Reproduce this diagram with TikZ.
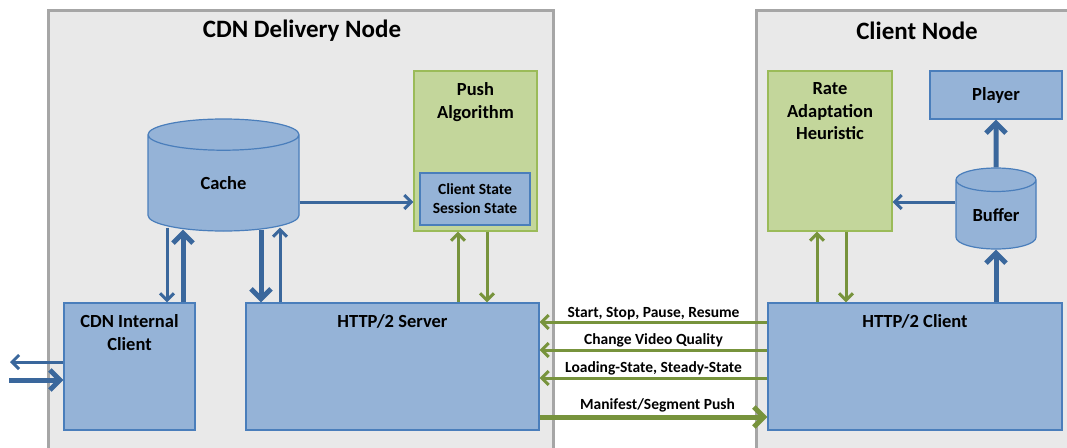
\documentclass[tikz,border=0pt]{standalone}
\usepackage{fontspec}
\setmainfont{Carlito}
\usetikzlibrary{arrows.meta,shapes.geometric,positioning}

\definecolor{boxgray}{HTML}{E9E9E9}
\definecolor{linegray}{HTML}{A6A6A6}
\definecolor{boxblue}{HTML}{95B3D7}
\definecolor{lineblue}{HTML}{4A7EBB}
\definecolor{topblue}{HTML}{B9CDE5}
\definecolor{arrowblue}{HTML}{3A679C}
\definecolor{boxgreen}{HTML}{C3D69B}
\definecolor{linegreen}{HTML}{9BBB59}
\definecolor{arrowgreen}{HTML}{77933C}

\begin{document}
\begin{tikzpicture}[
			x=1pt, y=-1pt,
			every node/.style={font=\bfseries\fontsize{18.5}{22.5}\selectfont, align=center},
			area/.style={draw=linegray, line width=3pt, fill=boxgray, inner sep=0pt},
			part/.style={draw=lineblue, line width=1.2pt, fill=boxblue, inner sep=0pt},
			logic/.style={draw=linegreen, line width=1.2pt, fill=boxgreen, inner sep=0pt},
			store/.style={part, cylinder, shape border rotate=90, cylinder uses custom fill,
				cylinder body fill=boxblue, cylinder end fill=topblue, anchor=shape center},
			heading/.style={label={[anchor=north, yshift=-12pt, inner sep=0pt]north:#1}},
			note/.style={font=\bfseries\fontsize{15.5}{19}\selectfont},
			flow/.style={draw=arrowblue, line width=3pt, -{Straight Barb[length=7pt,width=14pt]}},
			bigflow/.style={draw=arrowblue, line width=5pt, -{Straight Barb[length=10pt,width=20pt]}},
			signal/.style={flow, draw=arrowgreen},
			bigsignal/.style={bigflow, draw=arrowgreen}
	]
	\useasboundingbox (0,0) rectangle (1067,447);
	\clip (0,0) rectangle (1067,447);

	\node[area, minimum width=505pt, minimum height=460pt] (cdn) at (300.5,240) {};
	\node[area, minimum width=344pt, minimum height=460pt] (node) at (928,240) {};
	\node[font=\bfseries\fontsize{25}{30}\selectfont] (cdntitle) at (302,31) {CDN Delivery Node};
	\node[font=\bfseries\fontsize{25}{30}\selectfont] (nodetitle) at (917,31) {Client Node};
% >> CDN side
	\node[logic, minimum width=123pt, minimum height=160pt, heading={Push\\Algorithm}] (push) at (475.5,151) {};
	\node[part, note, minimum width=110pt, minimum height=52pt] (state) at (475,199) {Client State\\Session State};
	\node[store, aspect=0.68, minimum width=151pt, minimum height=112pt] (cache) at (223.5,175) {Cache};
	\node[part, minimum width=131pt, minimum height=127pt, heading={CDN Internal\\Client}] (intclient) at (129.5,366.5) {};
	\node[part, minimum width=293pt, minimum height=127pt, heading={HTTP/2 Server}] (server) at (392.5,366.5) {};
% >> client side
	\node[part, minimum width=294pt, minimum height=127pt, heading={HTTP/2 Client}] (client) at (915,366.5) {};
	\node[logic, minimum width=124pt, minimum height=160pt, heading={Rate\\Adaptation\\Heuristic}] (rate) at (830,151) {};
	\node[part, minimum width=132pt, minimum height=48pt] (player) at (996,95) {Player};
	\node[store, aspect=0.5, minimum width=80pt, minimum height=81pt] (buffer) at (996,208.5) {Buffer};

	\coordinate (outL) at (10,362);
	\coordinate (inL) at (9,380);

	\draw[flow] ([yshift=-27pt]cache.shape center -| cache.east) -- ([yshift=-51pt]push.west);
	\draw[flow] ([xshift=-56.5pt,yshift=4pt]cache.south) -- ([xshift=37.5pt]intclient.north);
	\draw[bigflow] ([xshift=53.5pt]intclient.north) -- ([xshift=-40.5pt,yshift=2pt]cache.south);
	\draw[bigflow] ([xshift=37.5pt,yshift=2pt]cache.south) -- ([xshift=-131.5pt]server.north);
	\draw[flow] ([xshift=-112.5pt]server.north) -- ([xshift=56.5pt,yshift=4pt]cache.south);
	\draw[flow] (intclient.west |- outL) -- (outL);
	\draw[bigflow] (inL) -- (intclient.west |- inL);
	\draw[signal] ([xshift=65.5pt]server.north) -- ([xshift=-17.5pt]push.south);
	\draw[signal] ([xshift=11.5pt]push.south) -- ([xshift=94.5pt]server.north);

	\draw[signal] ([yshift=44.5pt]client.west) -- node[note, above, inner sep=1pt] {Start, Stop, Pause, Resume} ([yshift=44.5pt]server.east);
	\draw[signal] ([yshift=16.5pt]client.west) -- node[note, above, inner sep=1pt] {Change Video Quality} ([yshift=16.5pt]server.east);
	\draw[signal] ([yshift=-11.5pt]client.west) -- node[note, above, inner sep=1pt] {Loading-State, Steady-State} ([yshift=-11.5pt]server.east);
	\draw[bigsignal] ([yshift=-50.5pt]server.east) -- node[note, above, inner sep=2pt, xshift=4pt] {Manifest/Segment Push} ([yshift=-50.5pt]client.west);

	\draw[signal] ([xshift=-98pt]client.north) -- ([xshift=-13pt]rate.south);
	\draw[signal] ([xshift=16pt]rate.south) -- ([xshift=-69pt]client.north);
	\draw[flow] ([yshift=-51pt]rate.east -| buffer.west) -- ([yshift=-51pt]rate.east);
	\draw[bigflow] (buffer.north) -- (player.south);
	\draw[bigflow] ([xshift=81pt]client.north) -- (buffer.south);
\end{tikzpicture}
\end{document}
